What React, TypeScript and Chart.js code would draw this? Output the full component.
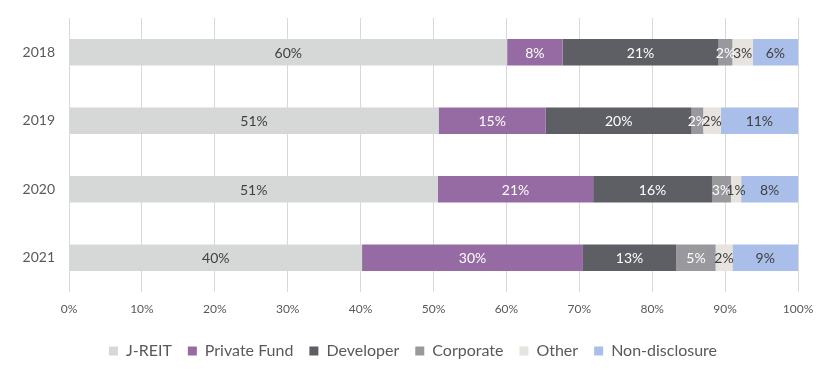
import React, { useEffect, useRef } from "react";
import { Chart, registerables } from "chart.js";

Chart.register(...registerables);

const years = ["2018", "2019", "2020", "2021"];
const jreit = [60.1, 50.7, 50.6, 40.2];
const privateFund = [7.6, 14.7, 21.3, 30.3];
const developer = [21.4, 20.0, 16.3, 12.8];
const corporate = [1.9, 1.6, 2.6, 5.4];
const other = [2.8, 2.4, 1.4, 2.3];
const nonDisclosure = [6.2, 10.6, 7.8, 9.0];
const xTicks = [0, 10, 20, 30, 40, 50, 60, 70, 80, 90, 100];

const FONT = "Lato, 'Open Sans', sans-serif";

const labelPlugin = {
  id: "segLabels",
  afterDatasetsDraw(chart: any) {
    const ctx = chart.ctx;
    ctx.save();
    ctx.font = `14px ${FONT}`;
    ctx.textAlign = "center";
    ctx.textBaseline = "middle";
    chart.data.datasets.forEach((ds: any, di: number) => {
      const meta = chart.getDatasetMeta(di);
      if (meta.hidden) return;
      meta.data.forEach((el: any, i: number) => {
        const v = ds.data[i];
        const { x, y } = el.getCenterPoint();
        ctx.fillStyle = ds.labelColor;
        ctx.fillText(Math.round(v) + "%", x, y + 1);
      });
    });
    ctx.restore();
  },
};

export default function App() {
  const ref = useRef<HTMLCanvasElement>(null);
  useEffect(() => {
    document.body.style.margin = "0";
    const mk = (label: string, data: number[], color: string, labelColor: string) => ({
      label,
      data,
      backgroundColor: color,
      borderWidth: 0,
      barPercentage: 0.387,
      categoryPercentage: 1,
      labelColor,
    });
    const chart = new Chart(ref.current!, {
      type: "bar",
      data: {
        labels: years,
        datasets: [
          mk("J-REIT", jreit, "#D6D7D7", "#404040"),
          mk("Private Fund", privateFund, "#966AA2", "#FFFFFF"),
          mk("Developer", developer, "#5E5F64", "#FFFFFF"),
          mk("Corporate", corporate, "#98989D", "#FFFFFF"),
          mk("Other", other, "#E7E3DE", "#404040"),
          mk("Non-disclosure", nonDisclosure, "#A9BEE8", "#404040"),
        ] as any,
      },
      options: {
        indexAxis: "y",
        responsive: false,
        animation: false,
        layout: { padding: { top: 18, right: 7, bottom: 7, left: 0 } },
        scales: {
          x: {
            stacked: true,
            min: 0,
            max: 100,
            afterBuildTicks: (axis: any) => {
              axis.ticks = xTicks.map((v) => ({ value: v }));
            },
            afterFit: (axis: any) => {
              axis.height = 35;
              axis.paddingLeft = 0;
              axis.paddingRight = 0;
            },
            ticks: {
              callback: (v: any) => v + "%",
              color: "#595959",
              font: { family: FONT, size: 12 },
              padding: 10,
            },
            grid: { color: "#D9D9D9", drawTicks: false },
            border: { display: false },
          },
          y: {
            stacked: true,
            afterFit: (axis: any) => {
              axis.width = 69;
              axis.paddingTop = 0;
              axis.paddingBottom = 0;
            },
            ticks: {
              color: "#595959",
              font: { family: FONT, size: 14 },
              padding: 14,
            },
            grid: { display: false, drawTicks: false },
            border: { display: false },
          },
          yRight: {
            type: "linear",
            axis: "y",
            position: "right",
            display: true,
            afterFit: (axis: any) => {
              axis.width = 28;
              axis.paddingTop = 0;
              axis.paddingBottom = 0;
            },
            ticks: { display: false },
            grid: { display: false, drawTicks: false },
            border: { display: false },
          },
        },
        plugins: {
          legend: {
            position: "bottom",
            labels: {
              boxWidth: 9,
              boxHeight: 9,
              padding: 16,
              color: "#595959",
              font: { family: FONT, size: 16 },
            },
          },
          tooltip: { enabled: false },
        },
      },
      plugins: [labelPlugin],
    } as any);
    return () => chart.destroy();
  }, []);
  return (
    <div style={{ position: "absolute", left: 0, top: 0, width: 833, height: 376, background: "#fff" }}>
      <canvas ref={ref} width={833} height={376} />
    </div>
  );
}
